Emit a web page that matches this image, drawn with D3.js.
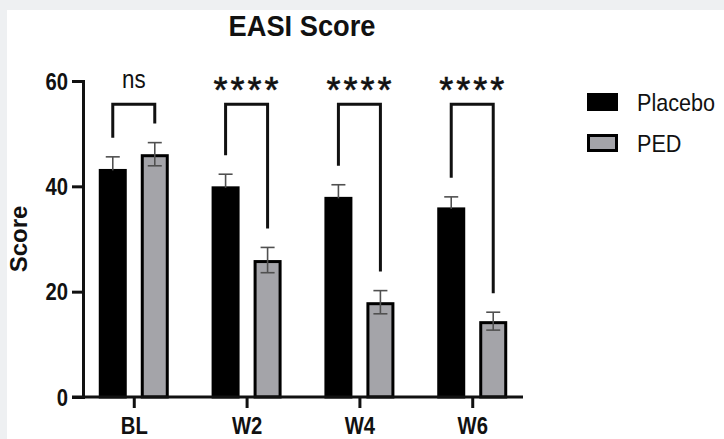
<!DOCTYPE html>
<html><head><meta charset="utf-8">
<script src="https://cdn.jsdelivr.net/npm/d3@7"></script>
<style>
body{margin:0;background:#eef0f2;}
svg{display:block;font-family:"Liberation Sans",Arial,Helvetica,sans-serif;}
</style>
</head><body><svg id="c" width="724" height="439"></svg>
<script>
// ---- data ----
const categories = ["BL", "W2", "W4", "W6"];
const seriesNames = ["Placebo", "PED"];
const placeboMean = [43.3, 40.0, 38.0, 36.0];
const placeboSE   = [2.3, 2.3, 2.3, 2.0];
const pedMean     = [46.1, 26.0, 18.0, 14.4];
const pedSE       = [2.2, 2.4, 2.2, 1.7];
const sigLabels   = ["ns", "****", "****", "****"];
const yTicks      = [0, 20, 40, 60];
const titleText   = "EASI Score";
const yLabelText  = "Score";

// ---- styles / layout ----
const fills = ["#000000", "#a4a4a9"];
const lowerErr = [false, true];
const errColor = "#505050";
const bracketTopValue = 55.6;
const bracketGap = 19;
const sx = 0.88;

const svg = d3.select("#c");
svg.append("rect").attr("x", 7).attr("y", 10).attr("width", 717).attr("height", 429).attr("fill", "#ffffff");

const y = d3.scaleLinear().domain([0, 60]).range([397, 81]);
const x = d3.scalePoint().domain(categories).range([83, 523]).padding(0.45);
const xs = d3.scaleBand().domain(seriesNames).range([-35, 35]).paddingInner(1/3).paddingOuter(0);

const means = [placeboMean, pedMean];
const ses = [placeboSE, pedSE];

function condText(sel, tx, ty, k) {
  return sel.attr("transform", `translate(${tx},${ty}) scale(${k},1)`);
}

// title
condText(svg.append("text"), 302, 36, 0.94)
  .attr("text-anchor", "middle").attr("font-weight", "bold").attr("font-size", 29)
  .attr("fill", "#111").text(titleText);

// y label
svg.append("text")
  .attr("transform", `translate(27,239) rotate(-90)`)
  .attr("text-anchor", "middle").attr("font-weight", "bold").attr("font-size", 24)
  .attr("fill", "#111").text(yLabelText);

// bars
const g = svg.append("g");
seriesNames.forEach((s, si) => {
  categories.forEach((c, ci) => {
    const x0 = x(c) + xs(s);
    const bw = xs.bandwidth();
    const v = means[si][ci];
    g.append("rect")
      .attr("x", x0 + 1.5).attr("width", bw - 3)
      .attr("y", y(v) + 1.5).attr("height", y(0) - y(v) - 1.5)
      .attr("fill", fills[si]).attr("stroke", "#000").attr("stroke-width", 3);
  });
});

// error bars
seriesNames.forEach((s, si) => {
  categories.forEach((c, ci) => {
    const cx = x(c) + xs(s) + xs.bandwidth() / 2;
    const v = means[si][ci], e = ses[si][ci];
    const top = y(v + e), bot = lowerErr[si] ? y(v - e) : y(v) + 1.5;
    const eg = g.append("g").attr("stroke", errColor).attr("stroke-width", 1.6);
    eg.append("line").attr("x1", cx).attr("x2", cx).attr("y1", top).attr("y2", bot);
    eg.append("line").attr("x1", cx - 7).attr("x2", cx + 7).attr("y1", top).attr("y2", top);
    if (lowerErr[si]) eg.append("line").attr("x1", cx - 7).attr("x2", cx + 7).attr("y1", bot).attr("y2", bot);
  });
});

// axes
const yAxis = svg.append("g").attr("transform", "translate(83,0)")
  .call(d3.axisLeft(y).tickValues(yTicks).tickSize(11).tickSizeOuter(0).tickPadding(4).tickFormat(d3.format("d")));
yAxis.select(".domain").attr("stroke", "#111").attr("stroke-width", 3).attr("stroke-linecap", "square");
yAxis.selectAll(".tick line").attr("stroke", "#111").attr("stroke-width", 3);
yAxis.selectAll(".tick text").each(function() {
  const t = d3.select(this);
  const tx = +t.attr("x");
  t.attr("x", 0).attr("dy", null).attr("font-size", 23).attr("font-weight", "bold")
   .attr("fill", "#111").attr("font-family", "Liberation Sans, Arial, sans-serif")
   .attr("transform", `translate(${tx},8.3) scale(${sx},1)`);
});

const xAxis = svg.append("g").attr("transform", "translate(0,397)")
  .call(d3.axisBottom(x).tickSize(11).tickSizeOuter(0).tickPadding(0));
xAxis.select(".domain").attr("stroke", "#111").attr("stroke-width", 3).attr("d", "M72,0H523");
xAxis.selectAll(".tick line").attr("stroke", "#111").attr("stroke-width", 3);
xAxis.selectAll(".tick text").attr("y", null).attr("dy", null)
  .attr("font-size", 23).attr("font-weight", "bold").attr("fill", "#111")
  .attr("font-family", "Liberation Sans, Arial, sans-serif")
  .attr("transform", `translate(0,37) scale(0.88,1)`);

// significance brackets
categories.forEach((c, ci) => {
  const xl = x(c) + xs(seriesNames[0]) + xs.bandwidth() / 2;
  const xr = x(c) + xs(seriesNames[1]) + xs.bandwidth() / 2;
  const yt = y(bracketTopValue);
  const yl = y(means[0][ci] + ses[0][ci]) - bracketGap;
  const yr = y(means[1][ci] + ses[1][ci]) - bracketGap;
  svg.append("path")
    .attr("d", `M${xl},${yl}V${yt}H${xr}V${yr}`)
    .attr("fill", "none").attr("stroke", "#111").attr("stroke-width", 3);
  const lbl = sigLabels[ci];
  const cxm = (xl + xr) / 2;
  if (lbl === "ns") {
    condText(svg.append("text"), cxm, 88, 0.86)
      .attr("text-anchor", "middle").attr("font-size", 26).attr("fill", "#111").text(lbl);
  } else {
    svg.append("text")
      .attr("x", cxm + 1).attr("y", 103)
      .attr("text-anchor", "middle").attr("font-size", 36)
      .attr("letter-spacing", 3).attr("fill", "#111").attr("stroke", "#111").attr("stroke-width", 0.6)
      .text(lbl);
  }
});

// legend
const legY = [93, 134];
seriesNames.forEach((s, si) => {
  svg.append("rect")
    .attr("x", 587 + 1.5).attr("y", legY[si] + 1.5).attr("width", 31 - 3).attr("height", 18 - 3)
    .attr("fill", fills[si]).attr("stroke", "#000").attr("stroke-width", 3);
  condText(svg.append("text"), 637, legY[si] + 18, 0.9)
    .attr("font-size", 24).attr("fill", "#111").text(s);
});
</script>
</body></html>
